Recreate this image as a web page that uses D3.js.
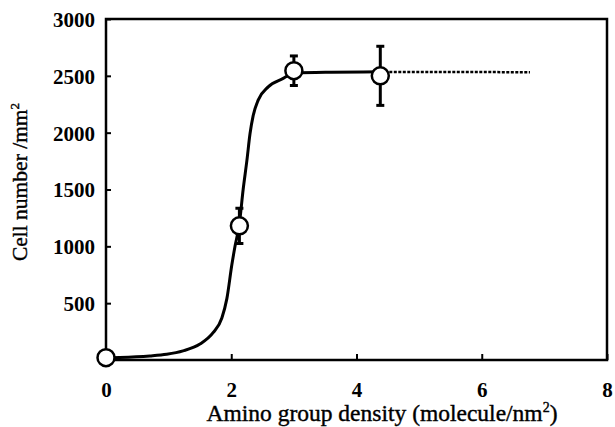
<!DOCTYPE html>
<html>
<head>
<meta charset="utf-8">
<script src="https://cdn.jsdelivr.net/npm/d3@7"></script>
<style>
  body { margin: 0; background: #fff; }
  text { font-family: "Liberation Serif", "Times New Roman", serif; fill: #000; }
</style>
</head>
<body>
<svg id="drawing_region"></svg>
<script>
// measured points (mean +/- error)
const density = [0, 2.13, 3.0, 4.38];
const cells = [20, 1180, 2545, 2500];
const errors = [0, 155, 130, 260];

// fitted curve
const fitX = [0, 0.22, 0.7, 0.97, 1.23, 1.5, 1.71, 1.85, 1.93, 2.01, 2.06, 2.13, 2.19, 2.25, 2.30, 2.35, 2.43, 2.59, 2.83, 3.0, 3.6, 4.38];
const fitY = [20, 22, 35, 50, 80, 140, 240, 370, 540, 840, 1000, 1200, 1500, 1756, 1992, 2150, 2286, 2403, 2477, 2525, 2532, 2535];
// dotted extension
const extX = [4.38, 6.77];
const extY = [2535, 2532];

const xTicks = [0, 2, 4, 6, 8];
const yTicks = [500, 1000, 1500, 2000, 2500, 3000];

const config = {
    width: 615,
    height: 427,
    margin: {top: 19, right: 8, bottom: 67, left: 106}
};

const svg = d3.select('#drawing_region')
    .attr('width', config.width)
    .attr('height', config.height);

const inner_width = config.width - config.margin.left - config.margin.right;
const inner_height = config.height - config.margin.top - config.margin.bottom;

const chart = svg.append('g')
    .attr('transform', `translate(${config.margin.left}, ${config.margin.top})`);

const xscale = d3.scaleLinear().domain([0, 8]).range([0, inner_width]);
const yscale = d3.scaleLinear().domain([0, 3000]).range([inner_height, 0]);

// frame
chart.append('rect')
    .attr('x', 0).attr('y', 0)
    .attr('width', inner_width).attr('height', inner_height)
    .attr('fill', 'none').attr('stroke', '#000').attr('stroke-width', 2.5);

const xaxis = d3.axisBottom(xscale).tickValues(xTicks).tickFormat(d3.format('d'))
    .tickSize(-6).tickPadding(22).tickSizeOuter(0);
const yaxis = d3.axisLeft(yscale).tickValues(yTicks).tickFormat(d3.format('d'))
    .tickSize(-5).tickPadding(11).tickSizeOuter(0);

const xg = chart.append('g')
    .attr('transform', `translate(0, ${inner_height})`)
    .call(xaxis);
const yg = chart.append('g').call(yaxis);

[xg, yg].forEach(g => {
    g.select('.domain').remove();
    g.selectAll('line').attr('stroke', '#000').attr('stroke-width', 2);
    g.selectAll('text')
        .attr('font-size', 21)
        .attr('font-weight', 'bold')
        .attr('font-family', '"Liberation Serif", serif');
});
yg.selectAll('text').attr('dy', '0.35em');
xg.selectAll('text').attr('dy', '0.72em');

// fitted curve
chart.append('path')
    .attr('d', d3.line()
        .x(d => xscale(d))
        .y((d, i) => yscale(fitY[i]))
        .curve(d3.curveMonotoneX)(fitX))
    .attr('fill', 'none').attr('stroke', '#000').attr('stroke-width', 3);

chart.append('path')
    .attr('d', d3.line().x(d => xscale(d)).y((d, i) => yscale(extY[i]))(extX))
    .attr('fill', 'none').attr('stroke', '#000').attr('stroke-width', 2.5)
    .attr('stroke-dasharray', '3,1.5');

// error bars
const pts = density.map((d, i) => ({x: d, y: cells[i], e: errors[i]}));
const eb = chart.append('g').selectAll('g').data(pts.filter(d => d.e > 0)).join('g');
eb.append('line')
    .attr('x1', d => xscale(d.x)).attr('x2', d => xscale(d.x))
    .attr('y1', d => yscale(d.y + d.e)).attr('y2', d => yscale(d.y - d.e))
    .attr('stroke', '#000').attr('stroke-width', 3);
[1, -1].forEach(s => {
    eb.append('line')
        .attr('x1', d => xscale(d.x) - 4).attr('x2', d => xscale(d.x) + 4)
        .attr('y1', d => yscale(d.y + s * d.e)).attr('y2', d => yscale(d.y + s * d.e))
        .attr('stroke', '#000').attr('stroke-width', 3);
});

// points
chart.append('g').selectAll('circle').data(pts).join('circle')
    .attr('cx', d => xscale(d.x))
    .attr('cy', d => yscale(d.y))
    .attr('r', 8.5)
    .attr('fill', '#fff').attr('stroke', '#000').attr('stroke-width', 2.5);

// axis labels
const ylab = svg.append('text')
    .attr('transform', 'translate(27, 182) rotate(-90)')
    .attr('text-anchor', 'middle')
    .attr('font-size', 21.5)
    .attr('stroke', '#000').attr('stroke-width', 0.4);
ylab.append('tspan').text('Cell number /mm');
ylab.append('tspan').attr('font-size', 13).attr('dy', -8).text('2');

const xlab = svg.append('text')
    .attr('x', 382).attr('y', 421)
    .attr('text-anchor', 'middle')
    .attr('font-size', 23.5)
    .attr('stroke', '#000').attr('stroke-width', 0.4);
xlab.append('tspan').text('Amino group density (molecule/nm');
xlab.append('tspan').attr('font-size', 14).attr('dy', -9).text('2');
xlab.append('tspan').attr('dy', 9).text(')');
</script>
</body>
</html>
